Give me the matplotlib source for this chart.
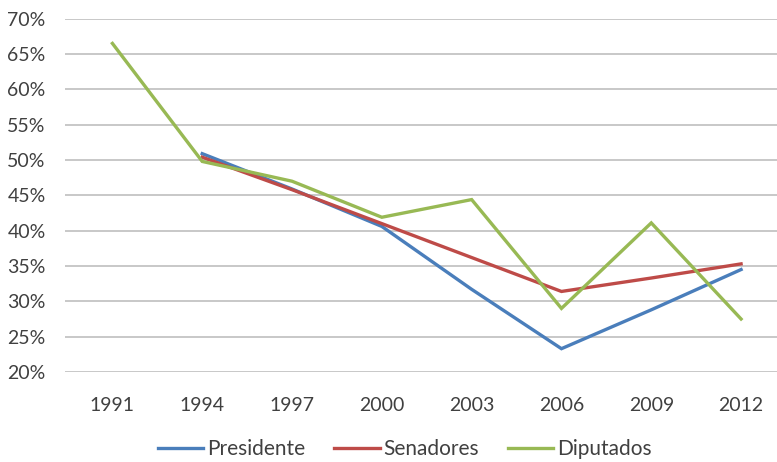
import matplotlib
matplotlib.use("Agg")
import matplotlib.pyplot as plt
from matplotlib.ticker import FuncFormatter

# data (percent)
years = ["1991", "1994", "1997", "2000", "2003", "2006", "2009", "2012"]
presidente = [None, 50.9, 45.9, 40.6, 31.7, 23.3, 28.8, 34.5]
senadores = [None, 50.4, 45.8, 41.0, 36.2, 31.4, 33.3, 35.3]
diputados = [66.5, 49.8, 47.0, 41.9, 44.4, 29.0, 41.1, 27.5]

series_names = ["Presidente", "Senadores", "Diputados"]
colors = ["#4A7EBB", "#BE4B48", "#98B954"]

plt.rcParams["font.family"] = ["Lato", "DejaVu Sans"]

fig = plt.figure(figsize=(7.77, 4.62), dpi=100)
ax = fig.add_axes([65 / 777, 1 - 372 / 462, 1 - 65 / 777, (372 - 18.7) / 462])

x = list(range(len(years)))
for name, vals, c in zip(series_names, [presidente, senadores, diputados], colors):
    xs = [i for i, v in zip(x, vals) if v is not None]
    ys = [v for v in vals if v is not None]
    ax.plot(xs, ys, color=c, lw=2.4, label=name, solid_joinstyle="miter")

ax.set_ylim(20, 70)
ax.set_yticks(range(20, 71, 5))
ax.yaxis.set_major_formatter(FuncFormatter(lambda v, p: f"{v:.0f}%"))
ax.set_xlim(-0.528, 7.40)
ax.set_xticks(x)
ax.set_xticklabels(years)

ax.grid(axis="y", color="#BFBFBF", lw=1.2)
ax.set_axisbelow(True)
for s in ax.spines.values():
    s.set_visible(False)
ax.tick_params(axis="both", length=0, labelsize=14, colors="#404040")
ax.tick_params(axis="y", pad=14)
ax.tick_params(axis="x", pad=18)

fig.legend(loc="center", bbox_to_anchor=(0.521, 1 - 449 / 462), ncol=3,
           frameon=False, fontsize=15, handlelength=2.2, handletextpad=0.2,
           columnspacing=1.35, labelcolor="#404040")

fig.savefig("out.png", dpi=100)
